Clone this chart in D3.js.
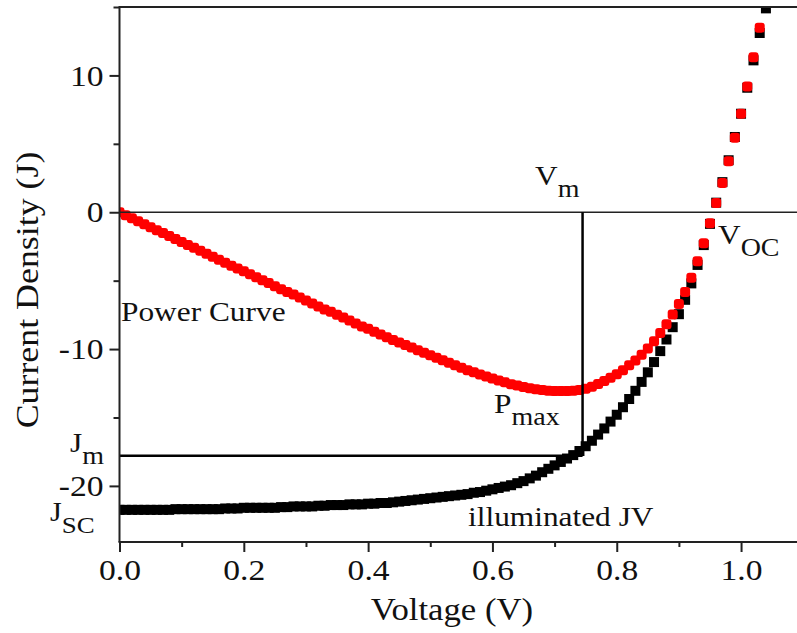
<!DOCTYPE html>
<html>
<head>
<meta charset="utf-8">
<script src="https://cdn.jsdelivr.net/npm/d3@7"></script>
<style>
  body { margin: 0; background: #fff; }
  svg { display: block; }
  text { font-family: "Liberation Serif", "Times New Roman", serif; fill: #111; }
</style>
</head>
<body>
<svg width="797" height="633"></svg>
<script>
const width = 797;
const height = 633;

// voltage steps (V)
const voltage = [0.00,0.01,0.02,0.03,0.04,0.05,0.06,0.07,0.08,0.09,
  0.10,0.11,0.12,0.13,0.14,0.15,0.16,0.17,0.18,0.19,
  0.20,0.21,0.22,0.23,0.24,0.25,0.26,0.27,0.28,0.29,
  0.30,0.31,0.32,0.33,0.34,0.35,0.36,0.37,0.38,0.39,
  0.40,0.41,0.42,0.43,0.44,0.45,0.46,0.47,0.48,0.49,
  0.50,0.51,0.52,0.53,0.54,0.55,0.56,0.57,0.58,0.59,
  0.60,0.61,0.62,0.63,0.64,0.65,0.66,0.67,0.68,0.69,
  0.70,0.71,0.72,0.73,0.74,0.75,0.76,0.77,0.78,0.79,
  0.80,0.81,0.82,0.83,0.84,0.85,0.86,0.87,0.88,0.89,
  0.90,0.91,0.92,0.93,0.94,0.95,0.96,0.97,0.98,0.99,
  1.00,1.01,1.02,1.03,1.04];

// illuminated JV (black squares)
const currentJV = [-21.75,-21.75,-21.75,-21.75,-21.75,-21.75,-21.75,-21.75,-21.75,-21.7,
  -21.7,-21.7,-21.7,-21.7,-21.7,-21.7,-21.7,-21.65,-21.65,-21.65,
  -21.6,-21.6,-21.6,-21.6,-21.6,-21.6,-21.55,-21.55,-21.5,-21.5,
  -21.5,-21.5,-21.45,-21.45,-21.4,-21.4,-21.4,-21.35,-21.35,-21.35,
  -21.3,-21.3,-21.25,-21.25,-21.2,-21.15,-21.1,-21.05,-21.0,-20.95,
  -20.9,-20.85,-20.8,-20.75,-20.7,-20.65,-20.6,-20.5,-20.45,-20.35,
  -20.25,-20.15,-20.05,-19.95,-19.8,-19.65,-19.45,-19.25,-19.0,-18.75,
  -18.5,-18.25,-18.0,-17.75,-17.45,-17.1,-16.7,-16.25,-15.8,-15.3,
  -14.8,-14.25,-13.65,-13.05,-12.4,-11.7,-10.95,-10.15,-9.3,-8.4,
  -7.45,-6.4,-5.2,-3.85,-2.4,-0.85,0.7,2.2,3.8,5.5,
  7.2,9.1,11.1,13.1,14.9];

// power curve (red dots)
const power = [0,-0.22,-0.44,-0.65,-0.87,-1.09,-1.31,-1.52,-1.74,-1.96,
  -2.17,-2.39,-2.6,-2.82,-3.04,-3.26,-3.47,-3.69,-3.91,-4.12,
  -4.32,-4.54,-4.75,-4.97,-5.18,-5.4,-5.62,-5.83,-6.02,-6.24,
  -6.45,-6.67,-6.88,-7.1,-7.28,-7.49,-7.7,-7.92,-8.13,-8.35,
  -8.52,-8.73,-8.93,-9.14,-9.33,-9.52,-9.71,-9.89,-10.08,-10.27,
  -10.45,-10.63,-10.82,-11.0,-11.18,-11.36,-11.54,-11.69,-11.86,-12.01,
  -12.15,-12.29,-12.43,-12.57,-12.67,-12.77,-12.86,-12.94,-13.0,-13.04,
  -13.06,-13.07,-13.07,-13.05,-13.0,-12.9,-12.75,-12.55,-12.33,-12.09,
  -11.84,-11.54,-11.19,-10.83,-10.42,-9.95,-9.42,-8.83,-8.18,-7.48,
  -6.71,-5.82,-4.78,-3.58,-2.26,-0.81,0.67,2.13,3.72,5.45,
  7.2,9.19,11.32,13.49];

const xMajor = [0, 0.2, 0.4, 0.6, 0.8, 1.0];
const xMinor = [0.1, 0.3, 0.5, 0.7, 0.9];
const yMajor = [-20, -10, 0, 10];
const yMinor = [-15, -5, 5, 15];

const Vm = 0.745;
const Jm = -17.8;

const svg = d3.select('svg');
const margin = { top: 7, left: 119.5, bottom: height - 542, right: 0 };
const sx = 1.12; // the source text is a little wider than Liberation Serif

const xScale = d3.scaleLinear().domain([0, 1.09]).range([margin.left, width]);
const yScale = d3.scaleLinear().domain([-24.1, 15]).range([542, margin.top]);

svg.append('defs').append('clipPath').attr('id', 'plot')
  .append('rect')
  .attr('x', margin.left).attr('y', margin.top)
  .attr('width', width - margin.left).attr('height', 542 - margin.top);

const marks = svg.append('g').attr('clip-path', 'url(#plot)');

const jvData = voltage.map((v, i) => ({ v, j: currentJV[i] }));
const pData = power.map((p, i) => ({ v: voltage[i], p }));

marks.selectAll('rect.jv')
  .data(jvData)
  .enter()
  .append('rect')
  .attr('class', 'jv')
  .attr('x', d => xScale(d.v) - 5)
  .attr('y', d => yScale(d.j) - 5)
  .attr('width', 10)
  .attr('height', 10)
  .attr('fill', '#000');

marks.selectAll('rect.pw')
  .data(pData)
  .enter()
  .append('rect')
  .attr('class', 'pw')
  .attr('x', d => xScale(d.v) - 5)
  .attr('y', d => yScale(d.p) - 5)
  .attr('width', 10)
  .attr('height', 10)
  .attr('rx', 3)
  .attr('fill', '#ff0000');

// reference lines
svg.append('line')
  .attr('x1', margin.left).attr('x2', width)
  .attr('y1', yScale(0)).attr('y2', yScale(0))
  .attr('stroke', '#222').attr('stroke-width', 1.6);
svg.append('line')
  .attr('x1', xScale(Vm)).attr('x2', xScale(Vm))
  .attr('y1', yScale(0)).attr('y2', yScale(Jm))
  .attr('stroke', '#000').attr('stroke-width', 2.5);
svg.append('line')
  .attr('x1', margin.left).attr('x2', xScale(Vm))
  .attr('y1', yScale(Jm)).attr('y2', yScale(Jm))
  .attr('stroke', '#000').attr('stroke-width', 2.5);

// axes
const xAxisG = svg.append('g')
  .attr('transform', 'translate(0,542)')
  .call(d3.axisBottom(xScale).tickValues(xMajor).tickSize(10).tickPadding(7)
    .tickFormat(d3.format('.1f')));
svg.append('g')
  .attr('transform', 'translate(0,542)')
  .call(d3.axisBottom(xScale).tickValues(xMinor).tickSize(5).tickFormat(''));

const yAxisG = svg.append('g')
  .attr('transform', 'translate(' + margin.left + ',0)')
  .call(d3.axisLeft(yScale).tickValues(yMajor).tickSize(10).tickPadding(6)
    .tickFormat(d => String(d)));
svg.append('g')
  .attr('transform', 'translate(' + margin.left + ',0)')
  .call(d3.axisLeft(yScale).tickValues(yMinor).tickSize(6).tickFormat(''));

svg.selectAll('.domain').remove();
svg.selectAll('.tick line').attr('stroke', '#222').attr('stroke-width', 2);
svg.selectAll('.tick text')
  .style('font-family', '"Liberation Serif", serif')
  .style('font-size', '30px')
  .attr('fill', '#111');
xAxisG.selectAll('.tick text').attr('transform', 'scale(' + sx + ',1)')
  .attr('x', 0);
yAxisG.selectAll('.tick text').attr('transform', 'scale(' + sx + ',1)')
  .attr('x', -16 / sx);

// frame: left, bottom, top
svg.append('line')
  .attr('x1', margin.left).attr('x2', margin.left)
  .attr('y1', margin.top).attr('y2', 542)
  .attr('stroke', '#222').attr('stroke-width', 2);
svg.append('line')
  .attr('x1', margin.left - 1).attr('x2', width)
  .attr('y1', 542).attr('y2', 542)
  .attr('stroke', '#222').attr('stroke-width', 2);
svg.append('line')
  .attr('x1', margin.left - 1).attr('x2', width)
  .attr('y1', margin.top).attr('y2', margin.top)
  .attr('stroke', '#222').attr('stroke-width', 2);

// text labels with optional subscript
const label = (x, y, main, sub, size, anchor) => {
  const t = svg.append('text')
    .attr('transform', 'translate(' + x + ',' + y + ') scale(' + sx + ',1)')
    .attr('text-anchor', anchor || 'start')
    .style('font-size', size + 'px')
    .text(main);
  if (sub) {
    t.append('tspan')
      .attr('dy', 12)
      .style('font-size', (size - 3) + 'px')
      .text(sub);
  }
  return t;
};

label(452, 620, 'Voltage (V)', null, 31, 'middle');
svg.append('text')
  .attr('transform', 'translate(38,290) rotate(-90) scale(' + sx + ',1)')
  .attr('text-anchor', 'middle')
  .style('font-size', '32px')
  .text('Current Density (J)');

label(121, 321, 'Power Curve', null, 28);
label(468, 526, 'illuminated JV', null, 28);
label(535, 185, 'V', 'm', 28);
label(718, 244, 'V', 'OC', 28);
label(494, 413, 'P', 'max', 28);
label(70, 452, 'J', 'm', 28);
label(50, 521, 'J', 'SC', 27);
</script>
</body>
</html>
